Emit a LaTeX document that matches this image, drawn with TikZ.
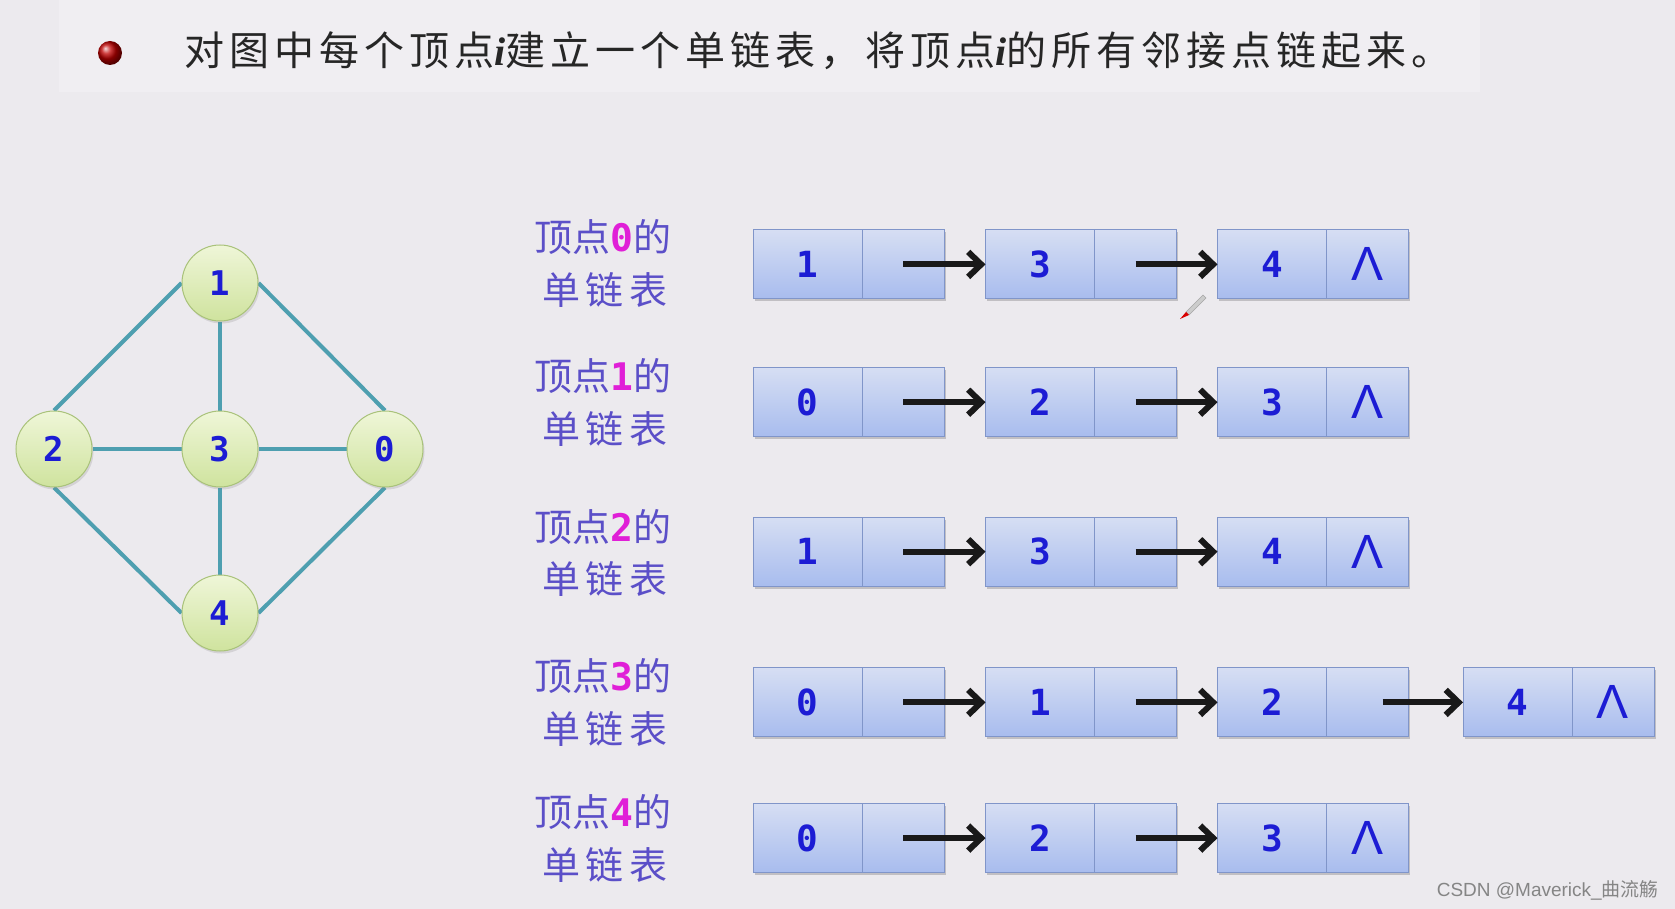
\documentclass[tikz,border=0pt]{standalone}
\usepackage{fontspec}
\setmainfont{Liberation Sans}
\newfontfamily\cjk{Noto Sans CJK SC}
\newfontfamily\cjktitle{Noto Sans CJK SC}[LetterSpace=12.5]
\newfontfamily\mono{DejaVu Sans Mono}
\newfontfamily\lsans{Liberation Sans}
\newfontfamily\lserif{Liberation Serif}
\usetikzlibrary{arrows.meta,shadows,backgrounds,calc}
\definecolor{bgc}{HTML}{ECEAEE}
\definecolor{bandc}{HTML}{F0EEF2}
\definecolor{edgec}{HTML}{4E9FB0}
\definecolor{digc}{HTML}{1C1CD4}
\definecolor{labc}{HTML}{5B4FC8}
\definecolor{magc}{HTML}{E01FD7}
\definecolor{gtop}{HTML}{EFF6D8}
\definecolor{gbot}{HTML}{CFE39E}
\definecolor{gbord}{HTML}{A9C27A}
\definecolor{btop}{HTML}{D6DEF3}
\definecolor{bbot}{HTML}{A8BCEE}
\definecolor{bbord}{HTML}{8095C9}
\tikzset{
  gnode/.style={circle, minimum size=76pt, inner sep=0pt, draw=gbord, line width=1pt,
    top color=gtop, bottom color=gbot, text=digc,
    font=\mono\bfseries\fontsize{34}{34}\selectfont,
    drop shadow={opacity=0.22, shadow xshift=1.5pt, shadow yshift=-2.5pt}},
  gedge/.style={draw=edgec, line width=4pt},
  dbox/.style={rectangle, minimum width=109pt, minimum height=69pt, inner sep=0pt, outer sep=0pt,
    draw=bbord, line width=1pt, top color=btop, bottom color=bbot, text=digc,
    font=\mono\bfseries\fontsize{36}{36}\selectfont},
  pbox/.style={dbox, minimum width=82pt},
  nullsym/.style={text=digc, font=\lsans\fontsize{48}{48}\selectfont, inner sep=0pt},
  ptr/.style={draw=black!90, line width=6pt, -{Straight Barb[length=13pt,width=25pt]}},
  lab/.style={text=labc, font=\cjk\fontsize{38}{38}\selectfont, inner sep=0pt},
}
\newcommand\llnode[4]{%
  \node[dbox] (#1d) at (#2,#3) {#4};
  \node[pbox,anchor=west] (#1p) at (#1d.east) {};
  \begin{scope}[on background layer]
    \fill[black,opacity=0.18] ([shift={(1.5pt,-2.5pt)}]#1d.north west) rectangle ([shift={(1.5pt,-2.5pt)}]#1p.south east);
  \end{scope}}
\newcommand\labdig[1]{{\color{magc}\mono\bfseries\fontsize{38}{38}\selectfont #1}}
\begin{document}
\begin{tikzpicture}[x=1pt,y=-1pt]
\useasboundingbox (0,0) rectangle (1675,909);
\begin{scope}[on background layer]
  \fill[bgc] (0,0) rectangle (1675,909);
  \fill[bandc] (59,0) rectangle (1480,92);
\end{scope}

% title
\shade[ball color=red!75!black] (110,53) circle (12pt);
\node[anchor=west, inner sep=0pt, text=black!85, font=\cjktitle\fontsize{40}{40}\selectfont] (title) at (184,51)
  {对图中每个顶点{\lserif\bfseries\itshape i}建立一个单链表，将顶点{\lserif\bfseries\itshape i}的所有邻接点链起来。};

% graph
\node[gnode] (g1) at (220,283) {1};
\node[gnode] (g2) at (54,449) {2};
\node[gnode] (g3) at (220,449) {3};
\node[gnode] (g0) at (385,449) {0};
\node[gnode] (g4) at (220,613) {4};
\begin{scope}[on background layer]
  \draw[gedge] (g1.west) -- (g2.north);
  \draw[gedge] (g1.east) -- (g0.north);
  \draw[gedge] (g1.south) -- (g3.north);
  \draw[gedge] (g2.east) -- (g3.west);
  \draw[gedge] (g3.east) -- (g0.west);
  \draw[gedge] (g3.south) -- (g4.north);
  \draw[gedge] (g2.south) -- (g4.west);
  \draw[gedge] (g0.south) -- (g4.east);
\end{scope}

% labels
\node[lab] (l0a) at (603,237) {顶点\labdig{0}的};
\node[lab] (l0b) at (605,290) {单\hspace{6pt}链\hspace{6pt}表};
\node[lab] (l1a) at (603,376) {顶点\labdig{1}的};
\node[lab] (l1b) at (605,429) {单\hspace{6pt}链\hspace{6pt}表};
\node[lab] (l2a) at (603,527) {顶点\labdig{2}的};
\node[lab] (l2b) at (605,579) {单\hspace{6pt}链\hspace{6pt}表};
\node[lab] (l3a) at (603,676) {顶点\labdig{3}的};
\node[lab] (l3b) at (605,729) {单\hspace{6pt}链\hspace{6pt}表};
\node[lab] (l4a) at (603,812) {顶点\labdig{4}的};
\node[lab] (l4b) at (605,865) {单\hspace{6pt}链\hspace{6pt}表};

% row 0
\llnode{r0a}{807.5}{264.4}{1}
\llnode{r0b}{1040}{264.4}{3}
\llnode{r0c}{1272}{264.4}{4}
\node[nullsym] (r0n) at (r0cp) {Λ};
\draw[ptr] (r0ap.center) -- (r0bd.west);
\draw[ptr] (r0bp.center) -- (r0cd.west);
% row 1
\llnode{r1a}{807.5}{402.2}{0}
\llnode{r1b}{1040}{402.2}{2}
\llnode{r1c}{1272}{402.2}{3}
\node[nullsym] (r1n) at (r1cp) {Λ};
\draw[ptr] (r1ap.center) -- (r1bd.west);
\draw[ptr] (r1bp.center) -- (r1cd.west);
% row 2
\llnode{r2a}{807.5}{551.7}{1}
\llnode{r2b}{1040}{551.7}{3}
\llnode{r2c}{1272}{551.7}{4}
\node[nullsym] (r2n) at (r2cp) {Λ};
\draw[ptr] (r2ap.center) -- (r2bd.west);
\draw[ptr] (r2bp.center) -- (r2cd.west);
% row 3
\llnode{r3a}{807.5}{702.4}{0}
\llnode{r3b}{1040}{702.4}{1}
\llnode{r3c}{1272}{702.4}{2}
\llnode{r3d}{1517.5}{702.4}{4}
\node[nullsym] (r3n) at (r3dp) {Λ};
\draw[ptr] (r3ap.center) -- (r3bd.west);
\draw[ptr] (r3bp.center) -- (r3cd.west);
\draw[ptr] ([xshift=15pt]r3cp.center) -- (r3dd.west);
% row 4
\llnode{r4a}{807.5}{838.1}{0}
\llnode{r4b}{1040}{838.1}{2}
\llnode{r4c}{1272}{838.1}{3}
\node[nullsym] (r4n) at (r4cp) {Λ};
\draw[ptr] (r4ap.center) -- (r4bd.west);
\draw[ptr] (r4bp.center) -- (r4cd.west);

% pen cursor
\fill[gray!40, draw=gray!70, line width=0.6pt] (1186,312) -- (1203,295) -- (1206,298) -- (1189,315) -- cycle;
\fill[red!85!black] (1186,312) -- (1189,315) -- (1180,319) -- cycle;

% watermark
\node[anchor=east, inner sep=0pt, text=black!48, font=\fontsize{19}{19}\selectfont] (wm) at (1659,890) {CSDN @Maverick\_{\cjk 曲流觞}};
\end{tikzpicture}
\end{document}
